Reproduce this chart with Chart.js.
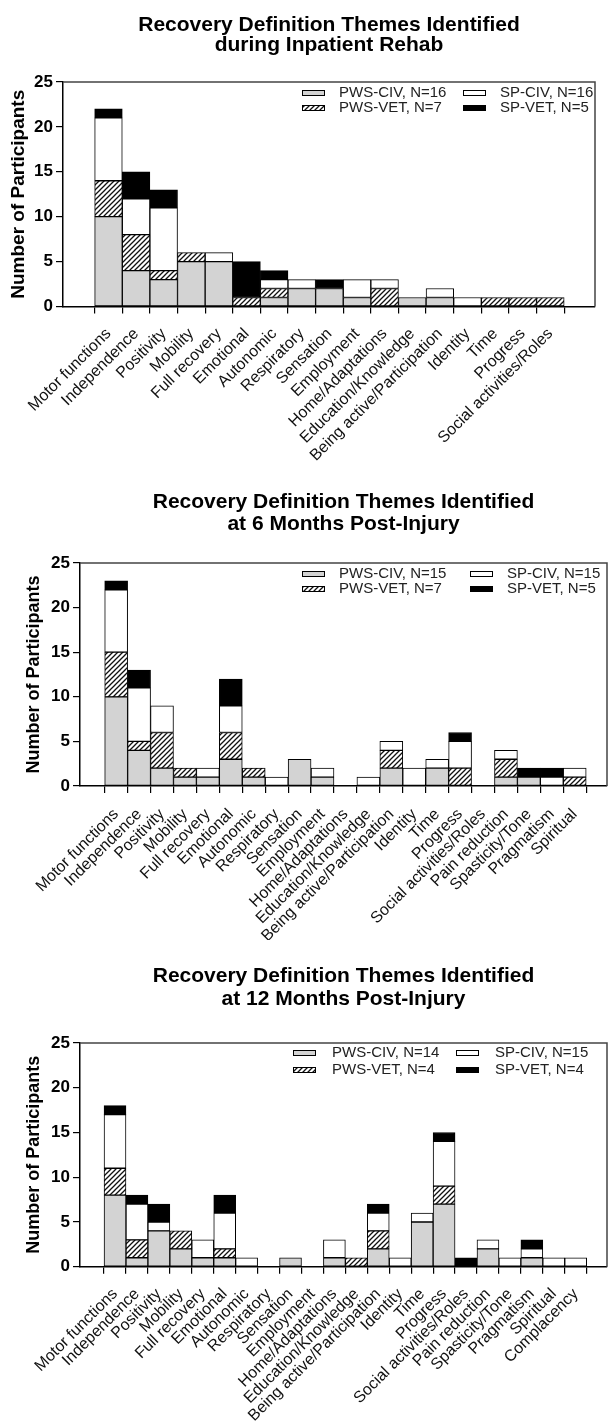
<!DOCTYPE html>
<html>
<head>
<meta charset="utf-8">
<script src="https://cdn.jsdelivr.net/npm/chart.js@4.4.1/dist/chart.umd.min.js"></script>
<style>
  body { margin: 0; background: #fff; }
  .wrap { position: relative; width: 609px; height: 1424px; }
  canvas { position: absolute; left: 0; }
</style>
</head>
<body>
<div class="wrap">
  <canvas id="c1" width="609" height="470" style="top:0px"></canvas>
  <canvas id="c2" width="609" height="470" style="top:470px"></canvas>
  <canvas id="c3" width="609" height="484" style="top:940px"></canvas>
</div>
<script>
// groups (stacked bottom -> top)
const groups = ['PWS-CIV', 'PWS-VET', 'SP-CIV', 'SP-VET'];

// chart 1: during inpatient rehab
const title1 = ['Recovery Definition Themes Identified', 'during Inpatient Rehab'];
const themes1 = ['Motor functions', 'Independence', 'Positivity', 'Mobility', 'Full recovery', 'Emotional',
  'Autonomic', 'Respiratory', 'Sensation', 'Employment', 'Home/Adaptations', 'Education/Knowledge',
  'Being active/Participation', 'Identity', 'Time', 'Progress', 'Social activities/Roles'];
const n1 = [16, 7, 16, 5];
const pwsCiv1 = [10, 4, 3, 5, 5, 0, 1, 2, 2, 1, 0, 1, 1, 0, 0, 0, 0];
const pwsVet1 = [4, 4, 1, 1, 0, 1, 1, 0, 0, 0, 2, 0, 0, 0, 1, 1, 1];
const spCiv1  = [7, 4, 7, 0, 1, 0, 1, 1, 0, 2, 1, 0, 1, 1, 0, 0, 0];
const spVet1  = [1, 3, 2, 0, 0, 4, 1, 0, 1, 0, 0, 0, 0, 0, 0, 0, 0];

// chart 2: 6 months
const title2 = ['Recovery Definition Themes Identified', 'at 6 Months Post-Injury'];
const themes2 = ['Motor functions', 'Independence', 'Positivity', 'Mobility', 'Full recovery', 'Emotional',
  'Autonomic', 'Respiratory', 'Sensation', 'Employment', 'Home/Adaptations', 'Education/Knowledge',
  'Being active/Participation', 'Identity', 'Time', 'Progress', 'Social activities/Roles',
  'Pain reduction', 'Spasticity/Tone', 'Pragmatism', 'Spiritual'];
const n2 = [15, 7, 15, 5];
const pwsCiv2 = [10, 4, 2, 1, 1, 3, 1, 0, 3, 1, 0, 0, 2, 0, 2, 0, 0, 1, 1, 0, 0];
const pwsVet2 = [5, 1, 4, 1, 0, 3, 1, 0, 0, 0, 0, 0, 2, 0, 0, 2, 0, 2, 0, 0, 1];
const spCiv2  = [7, 6, 3, 0, 1, 3, 0, 1, 0, 1, 0, 1, 1, 2, 1, 3, 0, 1, 0, 1, 1];
const spVet2  = [1, 2, 0, 0, 0, 3, 0, 0, 0, 0, 0, 0, 0, 0, 0, 1, 0, 0, 1, 1, 0];

// chart 3: 12 months
const title3 = ['Recovery Definition Themes Identified', 'at 12 Months Post-Injury'];
const themes3 = ['Motor functions', 'Independence', 'Positivity', 'Mobility', 'Full recovery', 'Emotional',
  'Autonomic', 'Respiratory', 'Sensation', 'Employment', 'Home/Adaptations', 'Education/Knowledge',
  'Being active/Participation', 'Identity', 'Time', 'Progress', 'Social activities/Roles',
  'Pain reduction', 'Spasticity/Tone', 'Pragmatism', 'Spiritual', 'Complacency'];
const n3 = [14, 4, 15, 4];
const pwsCiv3 = [8, 1, 4, 2, 1, 1, 0, 0, 1, 0, 1, 0, 2, 0, 5, 7, 0, 2, 0, 1, 0, 0];
const pwsVet3 = [3, 2, 0, 2, 0, 1, 0, 0, 0, 0, 0, 1, 2, 0, 0, 2, 0, 0, 0, 0, 0, 0];
const spCiv3  = [6, 4, 1, 0, 2, 4, 1, 0, 0, 0, 2, 0, 2, 1, 1, 5, 0, 1, 1, 1, 1, 1];
const spVet3  = [1, 1, 2, 0, 0, 2, 0, 0, 0, 0, 0, 0, 1, 0, 0, 1, 1, 0, 0, 1, 0, 0];

const yMax = 25, yStep = 5;
const FONT = '"Liberation Sans", Arial, sans-serif';

// diagonal hatch for the VET groups
function makeHatch() {
  const c = document.createElement('canvas');
  c.width = 5; c.height = 5;
  const g = c.getContext('2d');
  g.fillStyle = '#fff';
  g.fillRect(0, 0, 5, 5);
  g.strokeStyle = '#111';
  g.lineWidth = 1.3;
  g.beginPath();
  g.moveTo(-1, 6); g.lineTo(6, -1);
  g.moveTo(-1, 1); g.lineTo(1, -1);
  g.moveTo(4, 6); g.lineTo(6, 4);
  g.stroke();
  return g.createPattern(c, 'repeat');
}
const hatch = makeHatch();
const fills = ['#d3d3d3', hatch, '#ffffff', '#000000'];

// title, frame and inside legend drawn on the canvas
function overlay(cfg) {
  return {
    id: 'overlay',
    afterDraw(chart) {
      const ctx = chart.ctx;
      const a = chart.chartArea;
      ctx.save();
      // top + right frame
      ctx.strokeStyle = '#444';
      ctx.lineWidth = 1.5;
      ctx.beginPath();
      ctx.moveTo(a.left, a.top);
      ctx.lineTo(a.right, a.top);
      ctx.lineTo(a.right, a.bottom);
      ctx.stroke();
      // title
      ctx.fillStyle = '#000';
      ctx.font = 'bold 21px ' + FONT;
      ctx.textAlign = 'center';
      ctx.textBaseline = 'alphabetic';
      const cx = (a.left + a.right) / 2;
      cfg.title.forEach((t, i) => ctx.fillText(t, cx, cfg.titleY[i]));
      // legend: rows PWS-CIV / SP-CIV, PWS-VET / SP-VET
      const grid = [[0, 2], [1, 3]];
      ctx.font = '15px ' + FONT;
      ctx.textAlign = 'left';
      ctx.textBaseline = 'middle';
      grid.forEach((row, r) => {
        row.forEach((di, c) => {
          const ds = chart.data.datasets[di];
          const x = cfg.legX[c];
          const y = cfg.legY[r];
          ctx.fillStyle = ds.backgroundColor;
          ctx.fillRect(x, y - 3, 23, 6);
          ctx.strokeStyle = '#000';
          ctx.lineWidth = 1;
          ctx.strokeRect(x + 0.5, y - 2.5, 22, 5);
          ctx.fillStyle = '#222';
          ctx.fillText(ds.label, x + cfg.legGap, y);
        });
      });
      ctx.restore();
    }
  };
}

function buildChart(id, cfg) {
  const series = cfg.series;
  const datasets = groups.map((g, k) => ({
    label: g + ', N=' + cfg.n[k],
    data: series[k].map((v, i) => ({ x: i, y: v === 0 ? null : v })),
    backgroundColor: fills[k],
    borderColor: '#000',
    borderWidth: 1,
    borderSkipped: false,
    barPercentage: 1,
    categoryPercentage: 1
  }));
  const labels = cfg.themes;
  return new Chart(document.getElementById(id), {
    type: 'bar',
    data: { datasets: datasets },
    options: {
      responsive: false,
      animation: false,
      layout: { padding: { top: cfg.top, left: 0, right: cfg.right, bottom: 0 } },
      plugins: { legend: { display: false }, tooltip: { enabled: false } },
      scales: {
        x: {
          type: 'linear',
          stacked: true,
          min: cfg.xMin,
          max: cfg.xMax,
          afterBuildTicks: (axis) => { axis.ticks = labels.map((_, i) => ({ value: i })); },
          afterFit: (s) => { s.height = cfg.xHeight; },
          grid: { drawOnChartArea: false, drawTicks: true, tickLength: 7, color: '#000', lineWidth: 1.2 },
          border: { display: true, color: '#000', width: 1.5 },
          ticks: {
            autoSkip: false,
            maxRotation: 45,
            minRotation: 45,
            padding: cfg.xPad,
            color: '#111',
            font: { family: FONT, size: 16 },
            callback: (v) => labels[v]
          }
        },
        y: {
          stacked: true,
          min: 0,
          max: yMax,
          afterFit: (s) => { s.width = cfg.left; },
          grid: { drawOnChartArea: false, drawTicks: true, tickLength: 7, color: '#000', lineWidth: 1.2 },
          border: { display: true, color: '#000', width: 1.5 },
          ticks: { stepSize: yStep, color: '#000', padding: 3, font: { family: FONT, size: 17, weight: 'bold' } },
          title: {
            display: true,
            text: 'Number of Participants',
            color: '#000',
            padding: { top: cfg.yTitlePad, bottom: 0 },
            font: { family: FONT, size: cfg.yTitleSize, weight: 'bold' }
          }
        }
      }
    },
    plugins: [overlay(cfg)]
  });
}

buildChart('c1', {
  title: title1, themes: themes1, n: n1, series: [pwsCiv1, pwsVet1, spCiv1, spVet1],
  top: 82, left: 63, right: 14, xHeight: 163.5, xMin: -1.08, xMax: 17.05, xPad: 11,
  titleY: [31, 51], yTitlePad: 7, yTitleSize: 19,
  legX: [302, 463], legY: [93, 108], legGap: 37
});
buildChart('c2', {
  title: title2, themes: themes2, n: n2, series: [pwsCiv2, pwsVet2, spCiv2, spVet2],
  top: 93, left: 80, right: 2, xHeight: 154, xMin: -1.03, xMax: 20.86, xPad: 12,
  titleY: [38, 60], yTitlePad: 23, yTitleSize: 18,
  legX: [302, 470], legY: [104, 119], legGap: 37
});
buildChart('c3', {
  title: title3, themes: themes3, n: n3, series: [pwsCiv3, pwsVet3, spCiv3, spVet3],
  top: 103, left: 80, right: 2, xHeight: 157.3, xMin: -1.05, xMax: 21.88, xPad: 11,
  titleY: [42, 65], yTitlePad: 23, yTitleSize: 18,
  legX: [293, 456], legY: [113, 130], legGap: 39
});
</script>
</body>
</html>
